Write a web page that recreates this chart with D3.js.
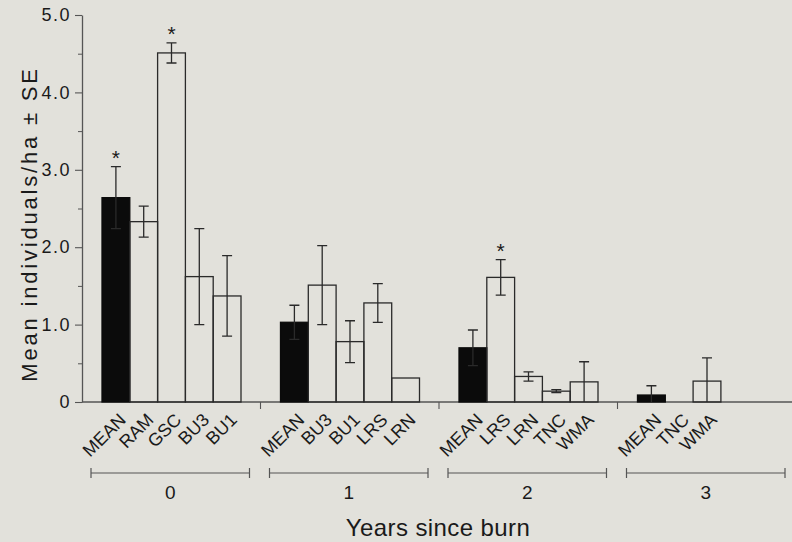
<!DOCTYPE html>
<html>
<head>
<meta charset="utf-8">
<script src="https://cdn.jsdelivr.net/npm/d3@7/dist/d3.min.js"></script>
<style>
  body { margin: 0; background: #e2e1db; }
  text { font-family: "Liberation Sans", Arial, Helvetica, sans-serif; fill: #1a1a1a; }
</style>
</head>
<body>
<div id="chart"></div>
<script>
// years since burn, and the sites sampled in each
var years = ["0", "1", "2", "3"];
var sites = [
  ["MEAN", "RAM", "GSC", "BU3", "BU1"],
  ["MEAN", "BU3", "BU1", "LRS", "LRN"],
  ["MEAN", "LRS", "LRN", "TNC", "WMA"],
  ["MEAN", "TNC", "WMA"]
];
// mean individuals/ha
var means = [
  [2.64, 2.33, 4.51, 1.62, 1.37],
  [1.03, 1.51, 0.78, 1.28, 0.31],
  [0.70, 1.61, 0.33, 0.14, 0.26],
  [0.09, 0.00, 0.27]
];
// standard errors
var errors = [
  [0.40, 0.20, 0.13, 0.62, 0.52],
  [0.22, 0.51, 0.27, 0.25, 0.00],
  [0.23, 0.23, 0.06, 0.02, 0.26],
  [0.12, 0.00, 0.30]
];
// bars flagged with *
var stars = [
  [true, false, true, false, false],
  [false, false, false, false, false],
  [false, true, false, false, false],
  [false, false, false]
];
var yTicks = [0, 1, 2, 3, 4, 5];
var yMinor = [0.5, 1.5, 2.5, 3.5, 4.5];

var svg = d3.select("#chart").append("svg").attr("width", 792).attr("height", 542),
    ink = "#2a2a2a",
    axisInk = "#555";

var x0 = d3.scaleBand().domain(years).range([82, 796]);
var x1 = d3.scaleBand().domain(d3.range(5)).range([20, 159]);
var y = d3.scaleLinear().domain([0, 5]).range([402, 15]);

var data = [];
years.forEach(function(yr, i) {
  sites[i].forEach(function(s, j) {
    data.push({ year: yr, slot: j, site: s, mean: means[i][j], se: errors[i][j], star: stars[i][j] });
  });
});
function bx(d) { return x0(d.year) + x1(d.slot); }
function cx(d) { return bx(d) + x1.bandwidth() / 2; }

// y axis
var yAxis = svg.append("g")
  .attr("transform", "translate(82,0)")
  .call(d3.axisLeft(y).tickValues(yTicks).tickSize(7).tickSizeOuter(0).tickPadding(4)
    .tickFormat(function(d) { return d === 0 ? "0" : d.toFixed(1); }));
yAxis.select(".domain").attr("stroke", axisInk).attr("stroke-width", 1.3);
yAxis.selectAll(".tick line").attr("stroke", axisInk).attr("stroke-width", 1.1);
yAxis.selectAll("text").attr("font-size", "18px").attr("letter-spacing", "1.5px")
  .attr("fill", "#1a1a1a").attr("font-family", "Liberation Sans, Arial, sans-serif");

var yMinorAxis = svg.append("g")
  .attr("transform", "translate(82,0)")
  .call(d3.axisLeft(y).tickValues(yMinor).tickSize(4).tickFormat(""));
yMinorAxis.select(".domain").remove();
yMinorAxis.selectAll(".tick line").attr("stroke", axisInk).attr("stroke-width", 1);

svg.append("text")
  .attr("transform", "translate(37,224) rotate(-90)")
  .attr("text-anchor", "middle")
  .attr("font-size", "22px")
  .attr("letter-spacing", "2.8px")
  .text("Mean individuals/ha \u00b1 SE");

// x axis line + group boundary ticks
svg.append("line")
  .attr("x1", 82).attr("x2", 792).attr("y1", y(0)).attr("y2", y(0))
  .attr("stroke", axisInk).attr("stroke-width", 1.3);
svg.selectAll(".gtick")
  .data(years.slice(1))
  .enter().append("line")
  .attr("class", "gtick")
  .attr("x1", function(d) { return x0(d); })
  .attr("x2", function(d) { return x0(d); })
  .attr("y1", y(0)).attr("y2", y(0) + 7)
  .attr("stroke", axisInk).attr("stroke-width", 1.1);

// bars
svg.selectAll(".bar")
  .data(data)
  .enter().append("rect")
  .attr("class", "bar")
  .attr("x", bx)
  .attr("y", function(d) { return y(d.mean); })
  .attr("width", x1.bandwidth())
  .attr("height", function(d) { return y(0) - y(d.mean); })
  .attr("fill", function(d) { return d.site === "MEAN" ? "#0b0b0b" : "none"; })
  .attr("stroke", function(d) { return d.site === "MEAN" ? "#0b0b0b" : ink; })
  .attr("stroke-width", 1.3);

// error bars
var eb = data.filter(function(d) { return d.se > 0; });
svg.selectAll(".err")
  .data(eb)
  .enter().append("path")
  .attr("class", "err")
  .attr("d", function(d) {
    var c = cx(d), top = y(d.mean + d.se), bot = y(Math.max(0, d.mean - d.se));
    return "M" + (c - 5) + "," + top + "H" + (c + 5) +
           "M" + c + "," + top + "V" + bot +
           (d.mean - d.se > 0 ? "M" + (c - 5) + "," + bot + "H" + (c + 5) : "");
  })
  .attr("fill", "none")
  .attr("stroke", ink)
  .attr("stroke-width", 1.3);

// significance stars
svg.selectAll(".star")
  .data(data.filter(function(d) { return d.star; }))
  .enter().append("text")
  .attr("class", "star")
  .attr("x", cx)
  .attr("y", function(d) { return y(d.mean + d.se) - 2; })
  .attr("text-anchor", "middle")
  .attr("font-size", "21px")
  .text("*");

// site labels
svg.selectAll(".site")
  .data(data)
  .enter().append("text")
  .attr("class", "site")
  .attr("transform", function(d) { return "translate(" + (cx(d) + 11) + "," + (y(0) + 19) + ") rotate(-45)"; })
  .attr("text-anchor", "end")
  .attr("font-size", "18px")
  .text(function(d) { return d.site; });

// year brackets
var bk = svg.selectAll(".bracket")
  .data(years)
  .enter().append("g")
  .attr("class", "bracket");
bk.append("path")
  .attr("d", function(d) {
    var a = x0(d) + 9, b = x0(d) + x0.bandwidth() - 11;
    return "M" + a + ",468V478M" + a + ",473H" + b + "M" + b + ",468V478";
  })
  .attr("fill", "none")
  .attr("stroke", axisInk)
  .attr("stroke-width", 1.2);
bk.append("text")
  .attr("x", function(d) { return x0(d) + 9 + (x0.bandwidth() - 20) / 2; })
  .attr("y", 499)
  .attr("text-anchor", "middle")
  .attr("font-size", "19px")
  .text(function(d) { return d; });

svg.append("text")
  .attr("x", 438)
  .attr("y", 536)
  .attr("text-anchor", "middle")
  .attr("font-size", "24px")
  .attr("letter-spacing", "0.4px")
  .text("Years since burn");
</script>
</body>
</html>
